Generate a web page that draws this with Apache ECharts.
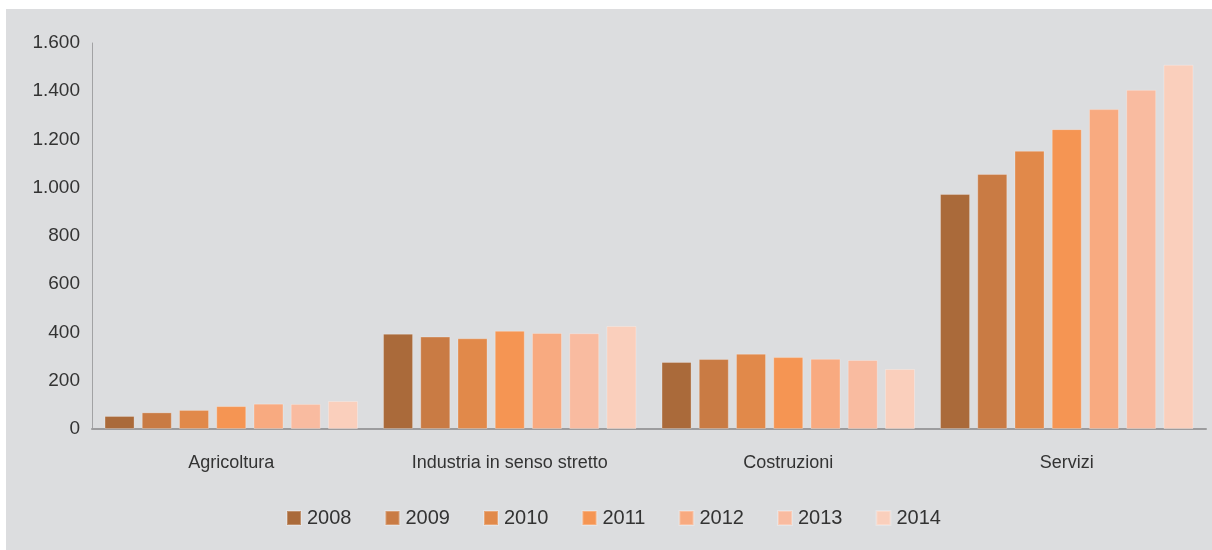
<!DOCTYPE html>
<html>
<head>
<meta charset="utf-8">
<script src="https://cdn.jsdelivr.net/npm/echarts@6/dist/echarts.min.js"></script>
<style>
html,body{margin:0;padding:0;background:#ffffff;}
#wrap{position:absolute;left:6px;top:9px;width:1206px;height:541px;background:#dcdddf;}
#chart{position:absolute;left:-6px;top:-9px;width:1212px;height:550px;}
</style>
</head>
<body>
<div id="wrap"><div id="chart"></div></div>
<script>
const categories = ['Agricoltura', 'Industria in senso stretto', 'Costruzioni', 'Servizi'];
const years = ['2008', '2009', '2010', '2011', '2012', '2013', '2014'];
const v2008 = [54, 395, 278, 974];
const v2009 = [69, 383, 290, 1057];
const v2010 = [79, 376, 312, 1153];
const v2011 = [95, 407, 298, 1243];
const v2012 = [105, 398, 291, 1326];
const v2013 = [104, 397, 286, 1406];
const v2014 = [116, 427, 249, 1510];
const yTicks = [0, 200, 400, 600, 800, 1000, 1200, 1400, 1600];

const values = [v2008, v2009, v2010, v2011, v2012, v2013, v2014];
const colors = ['#aa6a3a', '#c97b44', '#e1894a', '#f59553', '#f8aa80', '#f9bba0', '#facfbc'];

const chart = echarts.init(document.getElementById('chart'), null, {renderer: 'canvas'});
const fontFam = '"Liberation Sans", Arial, sans-serif';
chart.setOption({
  backgroundColor: 'transparent',
  animation: false,
  grid: {left: 92, right: 6, top: 43, bottom: 121, containLabel: false},
  legend: {
    data: years,
    top: 503,
    left: 281,
    itemWidth: 14,
    itemHeight: 14,
    itemGap: 33,
    icon: 'rect',
    textStyle: {fontFamily: fontFam, fontSize: 20, color: '#333333', padding: [0, 0, 0, 1]}
  },
  xAxis: {
    type: 'category',
    data: categories,
    axisLine: {lineStyle: {color: '#9c9c9e', width: 2}},
    axisTick: {show: false},
    axisLabel: {fontFamily: fontFam, fontSize: 18, color: '#333333', margin: 25}
  },
  yAxis: {
    type: 'value',
    min: yTicks[0],
    max: yTicks[yTicks.length - 1],
    interval: 200,
    axisLine: {show: true, lineStyle: {color: '#a2a2a4', width: 1}},
    axisTick: {show: false},
    splitLine: {show: false},
    axisLabel: {
      fontFamily: fontFam, fontSize: 19, color: '#333333', margin: 12,
      formatter: v => String(v).replace(/\B(?=(\d{3})+(?!\d))/g, '.')
    }
  },
  series: years.map((y, i) => ({
    name: y,
    type: 'bar',
    data: values[i],
    barGap: '24%',
    barCategoryGap: '9%',
    itemStyle: {color: colors[i], borderColor: 'rgba(255,255,255,0.25)', borderWidth: 1}
  }))
});
</script>
</body>
</html>
